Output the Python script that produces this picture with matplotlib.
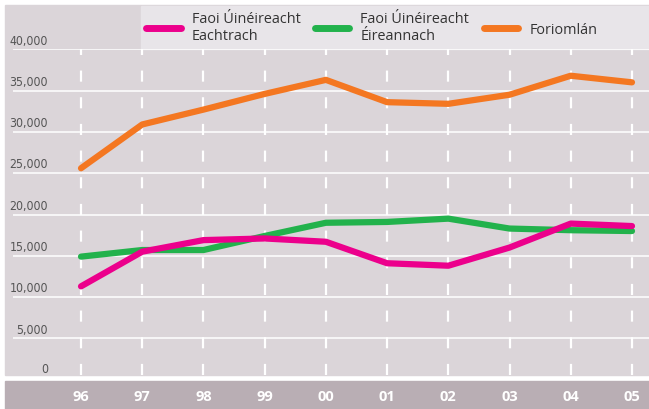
import numpy as np
import matplotlib.pyplot as plt
from matplotlib.patches import Rectangle

years = ["96", "97", "98", "99", "00", "01", "02", "03", "04", "05"]
eachtrach = [11300, 15500, 16900, 17100, 16700, 14100, 13800, 16000, 18900, 18600]
eireannach = [14900, 15700, 15700, 17400, 19000, 19100, 19500, 18300, 18100, 18000]
foriomlan = [25600, 30900, 32700, 34600, 36300, 33600, 33400, 34500, 36800, 36000]
yticks = [0, 5000, 10000, 15000, 20000, 25000, 30000, 35000, 40000]

W, H = 649, 409
fig = plt.figure(figsize=(W / 100, H / 100), dpi=100)

def fx(px):
    return px / W

def fy(py):
    return 1 - py / H

# background panels
fig.patches.append(Rectangle((fx(5), fy(375)), fx(644), 370 / H, color="#dbd5d9",
                             transform=fig.transFigure, zorder=-2))
fig.patches.append(Rectangle((fx(141), fy(49)), fx(508), 43 / H, color="#e8e5e9",
                             transform=fig.transFigure, zorder=-2))
fig.patches.append(Rectangle((fx(5), 0), fx(644), 28 / H, color="#b9aeb4",
                             transform=fig.transFigure, zorder=-2))

ax = fig.add_axes([fx(13), fy(375), fx(636), (375 - 49.3) / H])
ax.set_zorder(1)
ax.patch.set_alpha(0)
for s in ax.spines.values():
    s.set_visible(False)

x = np.arange(len(years))
ax.set_xlim(-1.111, 9.278)
ax.set_ylim(570, 40000)

for v in yticks[1:]:
    ax.axhline(v, color="white", lw=1.1, zorder=1)
for xi in x:
    ax.axvline(xi, color="white", lw=1.6, dashes=(5, 7), zorder=1)

ax.plot(x, eachtrach, color="#ec008c", lw=4.5, solid_capstyle="round",
        solid_joinstyle="round", zorder=3, label="Faoi Úinéireacht\nEachtrach")
ax.plot(x, eireannach, color="#22b24c", lw=4.5, solid_capstyle="round",
        solid_joinstyle="round", zorder=2, label="Faoi Úinéireacht\nÉireannach")
ax.plot(x, foriomlan, color="#f47721", lw=4.5, solid_capstyle="round",
        solid_joinstyle="round", zorder=3, label="Foriomlán")

ax.set_yticks([])
ax.set_xticks(x)
ax.set_xticklabels(years, color="white", fontweight="bold", fontsize=10.5,
                   family=["Open Sans", "DejaVu Sans"])
ax.tick_params(axis="x", length=0, pad=10.5)

for v in yticks:
    ax.annotate(f"{v:,}", xy=(0.055, v), xycoords=ax.get_yaxis_transform(),
                xytext=(0, 3.4 if v else 4.6), textcoords="offset points",
                ha="right", va="baseline", fontsize=8.8, color="#555555",
                family="DejaVu Sans", fontstretch="condensed", annotation_clip=False)

leg = fig.legend(loc="center left", bbox_to_anchor=(fx(146), fy(28)), ncol=3,
                 frameon=False, handlelength=2.4, handletextpad=0.75,
                 columnspacing=1.0, borderaxespad=0, borderpad=0,
                 prop={"family": ["Open Sans", "DejaVu Sans"], "size": 10.4})
for t in leg.get_texts():
    t.set_color("#333333")
    t.set_linespacing(1.12)
for h in leg.legend_handles:
    h.set_linewidth(5)

fig.savefig("out.png", dpi=100)
